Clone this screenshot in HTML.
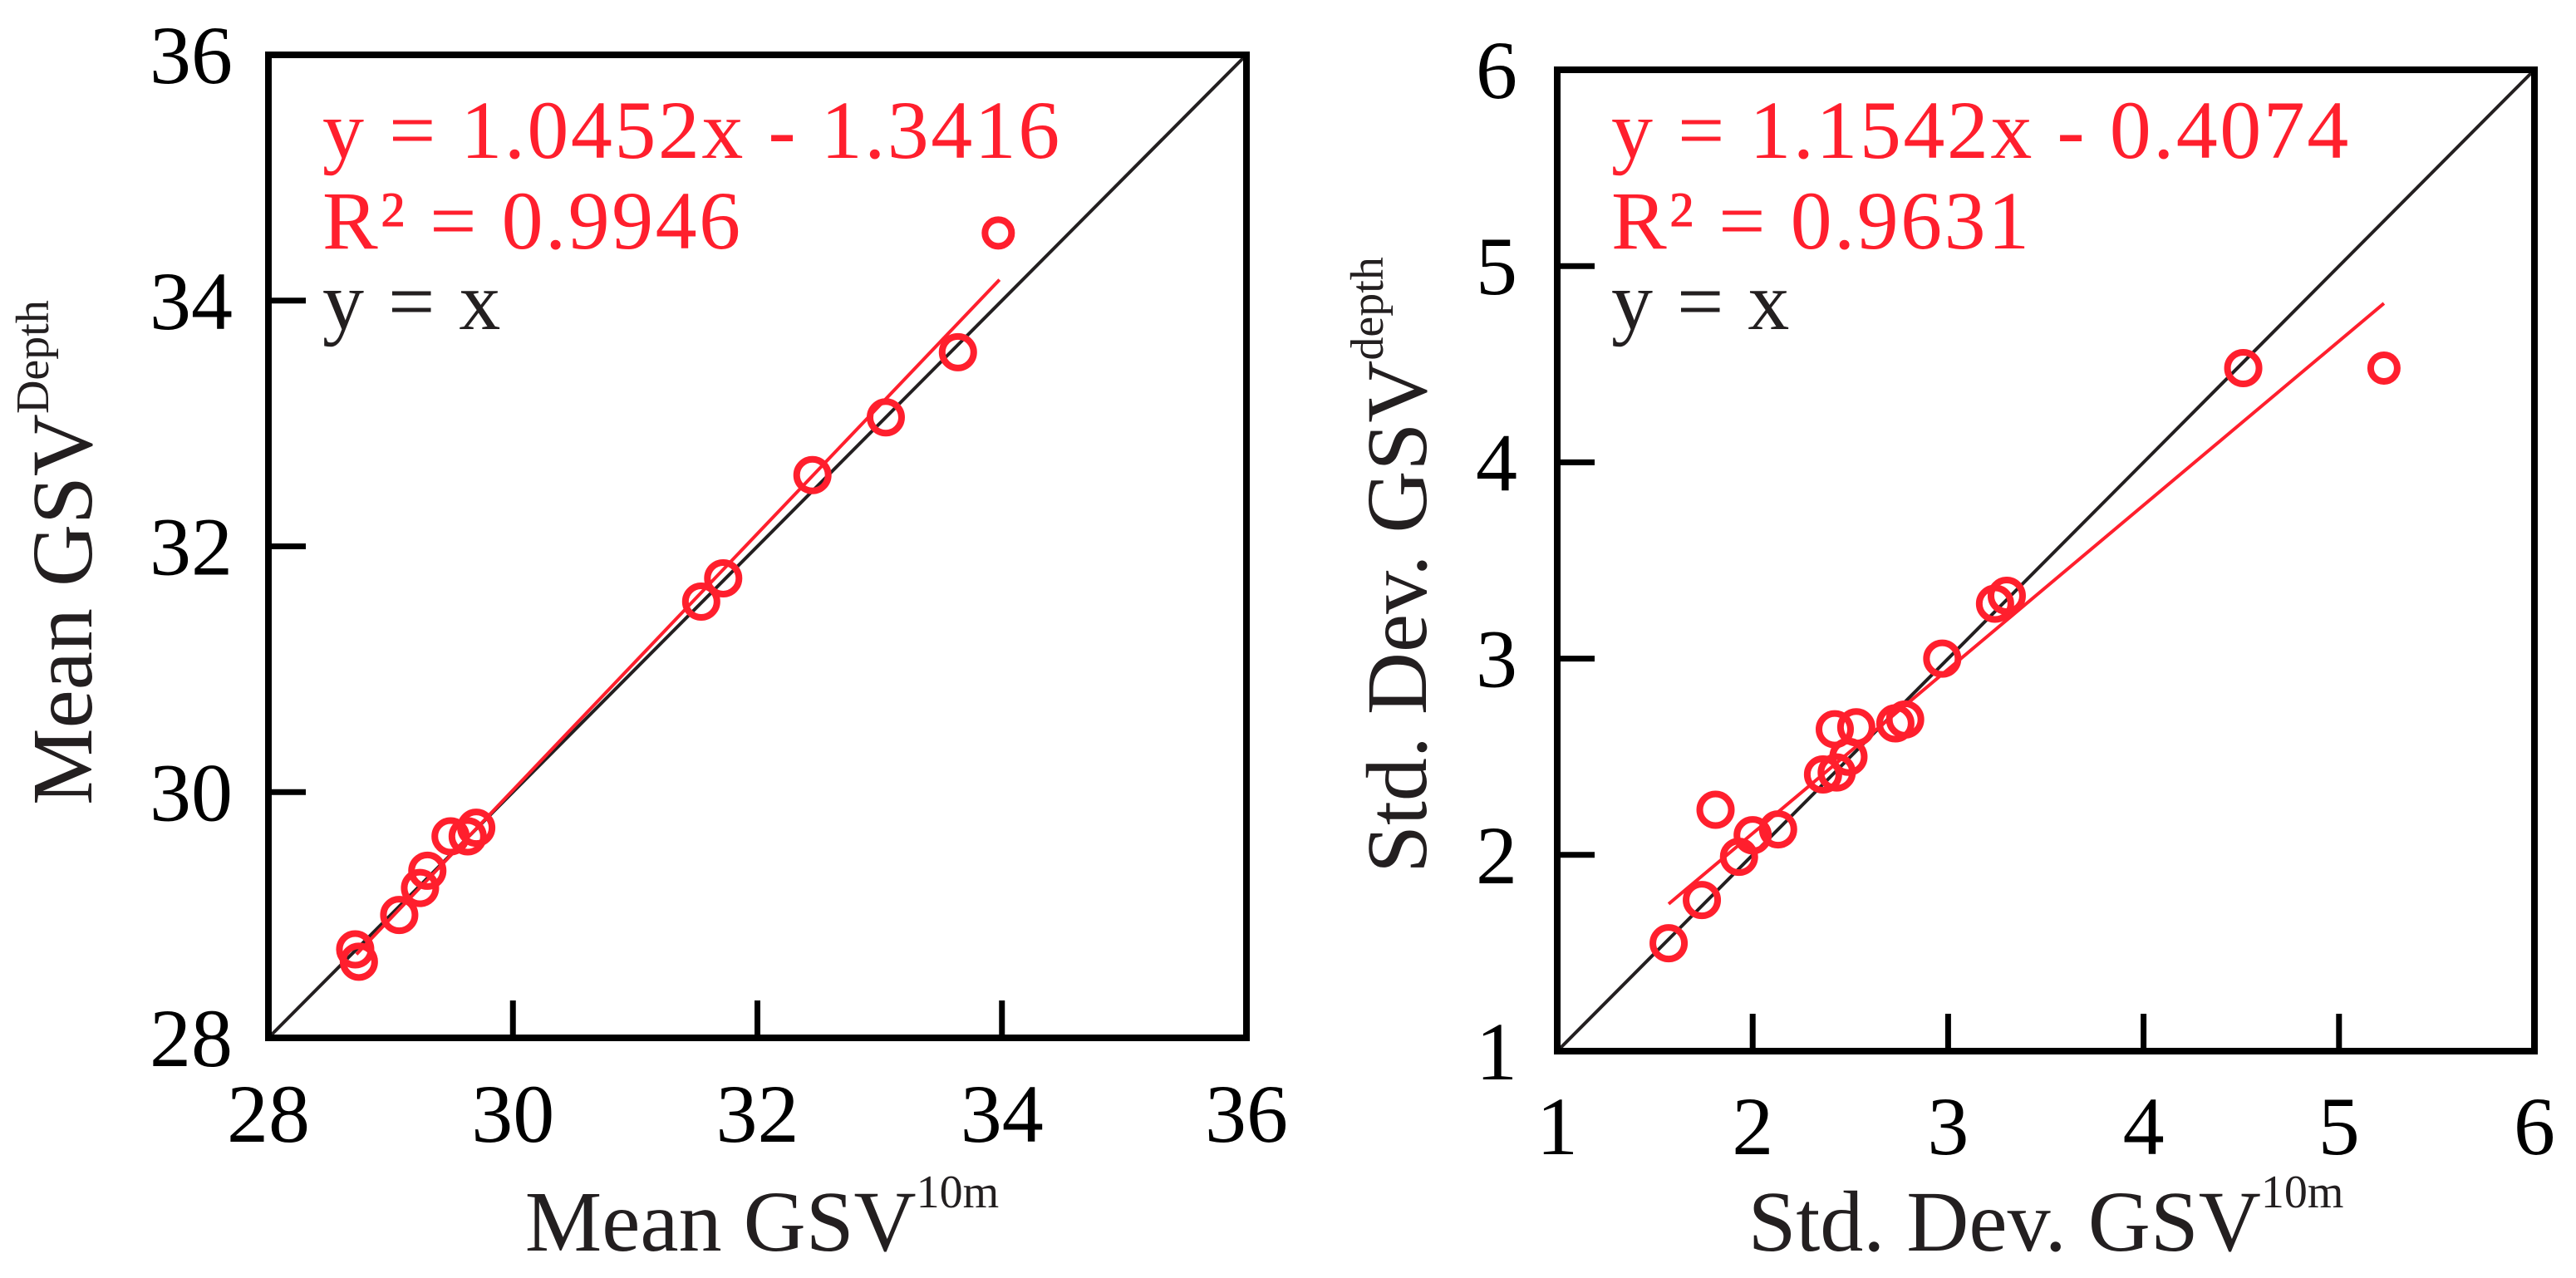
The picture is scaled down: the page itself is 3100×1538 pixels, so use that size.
<!DOCTYPE html>
<html><head><meta charset="utf-8"><style>
html,body{margin:0;padding:0;background:#fff;}
svg{display:block;}
text{font-family:"Liberation Serif",serif;}
</style></head><body>
<svg id="chart" width="3100" height="1538" viewBox="0 0 3100 1538" xmlns="http://www.w3.org/2000/svg"></svg>
<script>
// Left panel data (Mean GSV)
const meanX = [28.71, 28.74, 29.07, 29.24, 29.30, 29.49, 29.63, 29.70, 31.54, 31.72, 32.45, 33.05, 33.64, 33.97];
const meanY = [28.72, 28.62, 29.00, 29.22, 29.36, 29.64, 29.64, 29.71, 31.55, 31.74, 32.58, 33.05, 33.58, 34.55];
const meanFitX = [28.72, 33.98];
const meanFitY = [28.68, 34.17];
const meanTicks = [28, 30, 32, 34, 36];
// Right panel data (Std. Dev. GSV)
const sdX = [1.57, 1.74, 1.81, 1.93, 2.00, 2.13, 2.36, 2.43, 2.49, 2.42, 2.53, 2.73, 2.78, 2.97, 3.24, 3.30, 4.51, 5.23];
const sdY = [1.55, 1.77, 2.23, 1.99, 2.10, 2.13, 2.41, 2.42, 2.50, 2.64, 2.65, 2.67, 2.69, 3.00, 3.28, 3.32, 4.48, 4.48];
const sdFitX = [1.57, 5.23];
const sdFitY = [1.75, 4.81];
const sdTicks = [1, 2, 3, 4, 5, 6];

const NS = "http://www.w3.org/2000/svg";
const svg = document.getElementById('chart');
const RED = "#ff1f2d", DARK = "#231f20";
function mk(tag, attrs, parent){
  const e = document.createElementNS(NS, tag);
  for (const k in attrs) e.setAttribute(k, attrs[k]);
  (parent||svg).appendChild(e); return e;
}

function panel(cfg){
  const g = mk('g', {});
  
  
  const t = cfg.ticks, lo = t[0], hi = t[t.length-1];
  const sx = v => cfg.x0 + (v-lo)/(hi-lo)*(cfg.x1-cfg.x0);
  const sy = v => cfg.y1 - (v-lo)/(hi-lo)*(cfg.y1-cfg.y0);
  const d = mk('line', {x1:sx(lo), y1:sy(lo), x2:sx(hi), y2:sy(hi), stroke:DARK, 'stroke-width':4}, g);
  
  
  const f = mk('line', {x1:sx(cfg.fx[0]), y1:sy(cfg.fy[0]), x2:sx(cfg.fx[1]), y2:sy(cfg.fy[1]), stroke:RED, 'stroke-width':4}, g);
  
  
  cfg.px.forEach((v,i) => {
    const last = i === cfg.px.length-1;
    const c = mk('circle', {cx:sx(v), cy:sy(cfg.py[i]), r: last?16:19, fill:'none', stroke:RED, 'stroke-width':8}, g);
    
    
  });
  const fr = mk('rect', {x:cfg.x0, y:cfg.y0, width:cfg.x1-cfg.x0, height:cfg.y1-cfg.y0, fill:'none', stroke:'#000', 'stroke-width':8}, g);
  
  
  t.forEach((v,i) => {
    if (i>0 && i<t.length-1){
      const a = mk('line', {x1:sx(v), y1:cfg.y1, x2:sx(v), y2:cfg.y1-45, stroke:'#000', 'stroke-width':7}, g);
      
      
      const b = mk('line', {x1:cfg.x0, y1:sy(v), x2:cfg.x0+45, y2:sy(v), stroke:'#000', 'stroke-width':7}, g);
      
      
    }
    const xl = mk('text', {x:sx(v), y:cfg.xLabBase, 'font-size':100, 'text-anchor':'middle', fill:'#000'}, g);
    xl.textContent = v;
    
    
    const yl = mk('text', {x:cfg.yLabRight, y:sy(v)+34, 'font-size':100, 'text-anchor':'end', fill:'#000'}, g);
    yl.textContent = v;
    
    
  });
  const tx = cfg.x0 + 65;
  const e1 = mk('text', {x:tx, y:190, 'font-size':100, fill:RED, 'letter-spacing':2.5}, g);
  e1.textContent = cfg.eq;
  
  
  const e2 = mk('text', {x:tx, y:299, 'font-size':100, fill:RED, 'letter-spacing':2.5}, g);
  e2.textContent = cfg.r2;
  
  
  const e3 = mk('text', {x:tx, y:396, 'font-size':100, fill:DARK, 'letter-spacing':2}, g);
  e3.textContent = 'y = x';
  
  
  const xt = mk('text', {x:cfg.xtX, y:1505, 'font-size':104, 'text-anchor':'middle', fill:DARK}, g);
  xt.innerHTML = cfg.xt + '<tspan font-size="56" dy="-52">10m</tspan>';
  
  
  const yt = mk('text', {x:0, y:0, 'font-size':104, 'text-anchor':'middle', fill:DARK, transform:`translate(${cfg.ytX},${cfg.ytY}) rotate(-90)`}, g);
  yt.innerHTML = cfg.xt + '<tspan font-size="56" dy="-52">' + cfg.ysup + '</tspan>';
  
  
}

panel({name:'mean-gsv-panel', x0:323, x1:1500, y0:66, y1:1249, ticks:meanTicks,
  px:meanX, py:meanY, fx:meanFitX, fy:meanFitY, xLabBase:1374, yLabRight:280,
  eq:'y = 1.0452x - 1.3416', r2:'R² = 0.9946', xt:'Mean GSV', ysup:'Depth',
  xtX:917, ytX:110, ytY:665});
panel({name:'std-dev-gsv-panel', x0:1874, x1:3050, y0:84, y1:1265, ticks:sdTicks,
  px:sdX, py:sdY, fx:sdFitX, fy:sdFitY, xLabBase:1389, yLabRight:1826,
  eq:'y = 1.1542x - 0.4074', r2:'R² = 0.9631', xt:'Std. Dev. GSV', ysup:'depth',
  xtX:2462, ytX:1716, ytY:680});
</script>
</body></html>
